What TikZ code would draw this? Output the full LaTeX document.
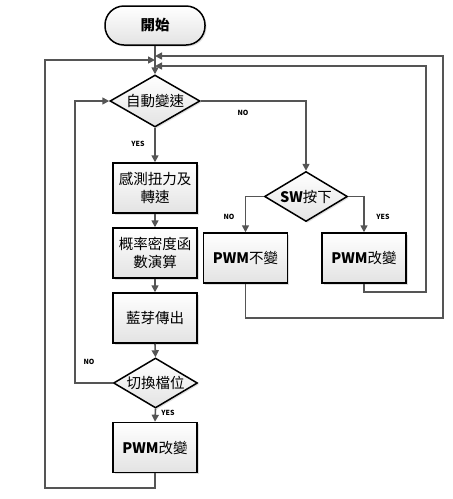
\documentclass[tikz,border=0pt]{standalone}
\usepackage{fontspec}
\newfontfamily\cjk{Noto Sans CJK TC}
\usetikzlibrary{shapes.geometric,shadows,arrows.meta}
\definecolor{linec}{HTML}{555555}
\tikzset{
  box/.style={draw=black, line width=1.5pt, rectangle, minimum width=84pt, minimum height=50pt, inner sep=1pt,
    top color=white, bottom color=gray!22, drop shadow={shadow xshift=1.5pt, shadow yshift=-1.5pt, fill=gray!50},
    font=\cjk\fontsize{14.5}{18}\selectfont, align=center},
  dia/.style={draw=black, line width=1.5pt, diamond, inner sep=0pt,
    top color=white, bottom color=gray!22, drop shadow={shadow xshift=1.5pt, shadow yshift=-1.5pt, fill=gray!50}},
  term/.style={draw=black, line width=1.5pt, rectangle, rounded corners=19pt, minimum width=100pt, minimum height=39pt,
    top color=white, bottom color=gray!22, drop shadow={shadow xshift=1.5pt, shadow yshift=-1.5pt, fill=gray!50},
    font=\cjk\bfseries\fontsize{14.5}{18}\selectfont},
  dtext/.style={font=\cjk\fontsize{14.5}{18}\selectfont, inner sep=0pt},
  conn/.style={draw=linec, line width=1.6pt},
  arr/.style={conn, -{Triangle[length=7pt,width=7pt]}},
  lab/.style={font=\cjk\bfseries\fontsize{7}{8}\selectfont, inner sep=0pt},
}
\begin{document}
\begin{tikzpicture}[x=1pt,y=-1pt]
\useasboundingbox (0,0) rectangle (453,499);
% nodes
\node[term] (start) at (155,25.5) {開始};
\node[dia, minimum width=90pt, minimum height=52pt] (a1) at (155,101) {};
\node[dtext] at (a1) {自動變速};
\node[box] (b1) at (155,188) {感測扭力及\\轉速};
\node[box] (b2) at (155,253) {概率密度函\\數演算};
\node[box] (b3) at (155,318) {藍芽傳出};
\node[dia, minimum width=84pt, minimum height=50pt] (d2) at (155.5,383) {};
\node[dtext] at (d2) {切換檔位};
\node[box] (b4) at (155,447.5) {\bfseries PWM\mdseries 改變};
\node[dia, minimum width=83pt, minimum height=50pt] (sw) at (306,196.5) {};
\node[dtext] at (sw) {\bfseries SW\mdseries 按下};
\node[box] (pn) at (245.5,258) {\bfseries PWM\mdseries 不變};
\node[box] (pc) at (364,258) {\bfseries PWM\mdseries 改變};
% junction coordinates
\coordinate (j1) at (155,56);
\coordinate (j2) at (155,60);
\coordinate (j3) at (155,66);
% connectors
\draw[arr] (start.south) -- (a1.north);
\draw[arr] (a1.south) -- (b1.north);
\draw[arr] (b1.south) -- (b2.north);
\draw[arr] (b2.south) -- (b3.north);
\draw[arr] (b3.south) -- (d2.north);
\draw[arr] (d2.south) -- (b4.north);
\draw[arr] (a1.east) -| (sw.north);
\draw[arr] (d2.west) -| (75,383) |- (a1.west);
\draw[arr] (b4.south) |- (45,488) |- (j2);
\draw[arr] (sw.west) -| (pn.north);
\draw[arr] (sw.east) -| (pc.north);
\draw[arr] (pc.south) |- (426,292) |- (j3);
\draw[arr] (pn.south) |- (443,318) |- (j1);
% labels
\node[lab] at (243,113) {NO};
\node[lab] at (138,144) {YES};
\node[lab] at (89,362) {NO};
\node[lab] at (168,413) {YES};
\node[lab] at (229,216.5) {NO};
\node[lab] at (383,216.5) {YES};
\end{tikzpicture}
\end{document}
